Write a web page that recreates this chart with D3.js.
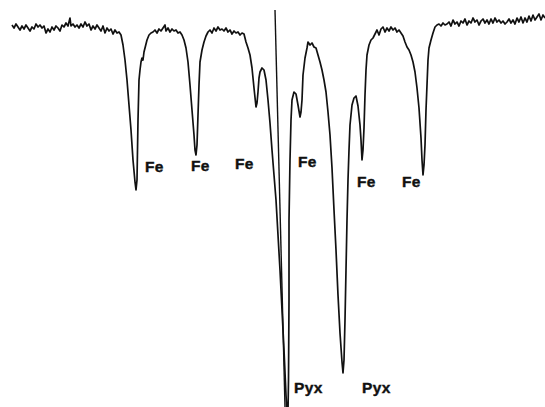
<!DOCTYPE html>
<html>
<head>
<meta charset="utf-8">
<script src="https://cdn.jsdelivr.net/npm/d3@7"></script>
<style>
  body { margin: 0; background: #fff; }
  svg { display: block; }
</style>
</head>
<body>
<div class="canvas"></div>
<script>
// spectrum trace: [channel, absorption depth]
const trace = [
  [12,25],[14,28],[16,24],[18,27],[20,30],[22,26],[24,29],[26,25],[28,28],[30,31],[32,27],[34,29],[36,24],[38,27],
  [40,25],[42,28],[44,26],[46,33],[48,29],[50,32],[52,27],[54,30],[56,26],[58,28],[60,31],[62,25],[64,27],[66,23],
  [68,26],[70,18],[71,26],[73,24],[75,27],[77,25],[79,28],[81,24],[83,27],[85,22],[87,26],[89,24],[91,30],[93,26],
  [95,29],[97,25],[99,28],[101,31],[103,26],[105,33],[107,28],[109,31],[111,29],[113,34],[115,30],[117,33],[119,32],[121,35],
  [123,45],[125,60],[127,80],[129,105],[131,130],[133,160],[135,182],[136,190],[137,180],[138,120],[139,80],[140,70],
  [141,62],[142,58],[143,60],[144,52],[145,48],[147,40],[149,35],[151,33],
  [153,32],[155,30],[157,33],[159,29],[161,31],[163,28],[165,25],[166,31],[168,28],[170,32],[172,29],[174,31],[176,30],
  [178,33],[180,32],[182,35],
  [184,40],[186,48],[188,62],[190,85],[192,110],[194,135],[195,150],[196,155],[197,145],[198,115],[199,85],[200,62],
  [202,50],[204,42],[206,36],[208,32],
  [210,30],[212,33],[214,28],[216,31],[218,27],[220,30],[222,29],[224,31],[226,28],[228,32],[230,30],[232,34],[234,31],
  [236,33],[238,32],[240,35],[242,33],[244,34],
  [246,42],[248,48],[250,55],[252,68],[254,88],[256,107],[257,103],[258,92],[259,78],[260,72],[262,68],[264,70],
  [266,80],[268,100],[270,123],[272,150],[274,175],[276,200],[278,235],[280,270],[282,310],[284,350],[286,395],
  [287,412],[288,412],[288.5,380],[289,300],[289,220],[290,160],[291,120],[292,100],[294,92],[296,94],[298,105],
  [300,117],[301,112],[302,100],[303,75],[305,58],[307,48],[308,42],[310,45],[312,43],[314,47],[316,48],[318,55],
  [320,62],[322,70],[324,80],[326,92],[328,112],[330,135],[332,168],[334,210],[336,250],[338,295],[340,333],[342,362],
  [343,373],[344,360],[345,320],[346,270],[347,220],[348,180],[349,150],[350,125],[352,105],[354,98],[356,96],
  [358,106],[360,125],[361,140],[362,160],[363,150],[364,128],[365,95],[366,70],[367,55],[369,45],[371,40],[373,38],[375,34],
  [377,30],[379,35],[381,29],[383,27],[385,32],[387,28],[389,31],[391,27],[393,30],[395,28],[397,32],[399,30],[401,33],[403,36],
  [405,42],[407,47],[409,50],[411,55],[413,62],[415,72],[417,88],[419,108],[421,138],[422,160],[423,175],[424,165],
  [425,145],[426,110],[427,85],[428,60],[429,48],[431,40],[433,33],[435,27],
  [437,25],[439,24],[441,26],[443,23],[445,25],[447,24],[449,22],[451,26],[453,20],[455,24],[457,22],[459,26],[461,21],
  [463,23],[465,19],[467,25],[469,21],[471,23],[473,18],[475,22],[477,20],[479,25],[481,21],[483,19],[485,23],[487,20],
  [489,24],[491,19],[493,23],[495,18],[497,22],[499,20],[501,23],[503,21],[505,24],[507,22],[509,19],[511,23],[513,20],
  [515,24],[517,18],[519,22],[521,17],[523,23],[525,18],[527,22],[529,16],[531,21],[533,15],[535,20],[537,17],[539,14],
  [541,20],[543,15],[545,18]
];

// peak labels
const labelText = ['Fe', 'Fe', 'Fe', 'Fe', 'Fe', 'Fe', 'Pyx', 'Pyx'];
const labelAt = [[145,172],[191,171],[235,169],[298,167],[357,187],[402,187],[294,393],[362,393]];

// centre marker line
const marker = [[275,10],[285,407]];

const width = 545, height = 407;

const x = d3.scaleLinear().domain([0, 545]).range([0, width]);
const y = d3.scaleLinear().domain([0, 407]).range([0, height]);

const svg = d3.select('.canvas').append('svg')
    .attr('width', width)
    .attr('height', height);

svg.append('rect')
    .attr('width', width)
    .attr('height', height)
    .attr('fill', '#fff');

const line = d3.line()
    .x(d => x(d[0]))
    .y(d => y(d[1]));

// marker
svg.append('path')
    .attr('d', line(marker))
    .attr('fill', 'none')
    .attr('stroke', '#111')
    .attr('stroke-width', 1.4);

// spectrum
svg.append('path')
    .attr('d', line(trace))
    .attr('fill', 'none')
    .attr('stroke', '#111')
    .attr('stroke-width', 1.7)
    .attr('stroke-linejoin', 'round');

// labels, a bit heavy like the scan
svg.selectAll('text.lbl')
    .data(labelText)
    .enter()
    .append('text')
    .attr('class', 'lbl')
    .attr('x', (d, i) => x(labelAt[i][0]))
    .attr('y', (d, i) => y(labelAt[i][1]))
    .attr('font-family', 'Liberation Sans, Arial, sans-serif')
    .attr('font-weight', 'bold')
    .attr('font-size', 15.5)
    .attr('letter-spacing', 0.4)
    .attr('fill', '#111')
    .attr('stroke', '#111')
    .attr('stroke-width', 0.4)
    .text(d => d);
</script>
</body>
</html>
